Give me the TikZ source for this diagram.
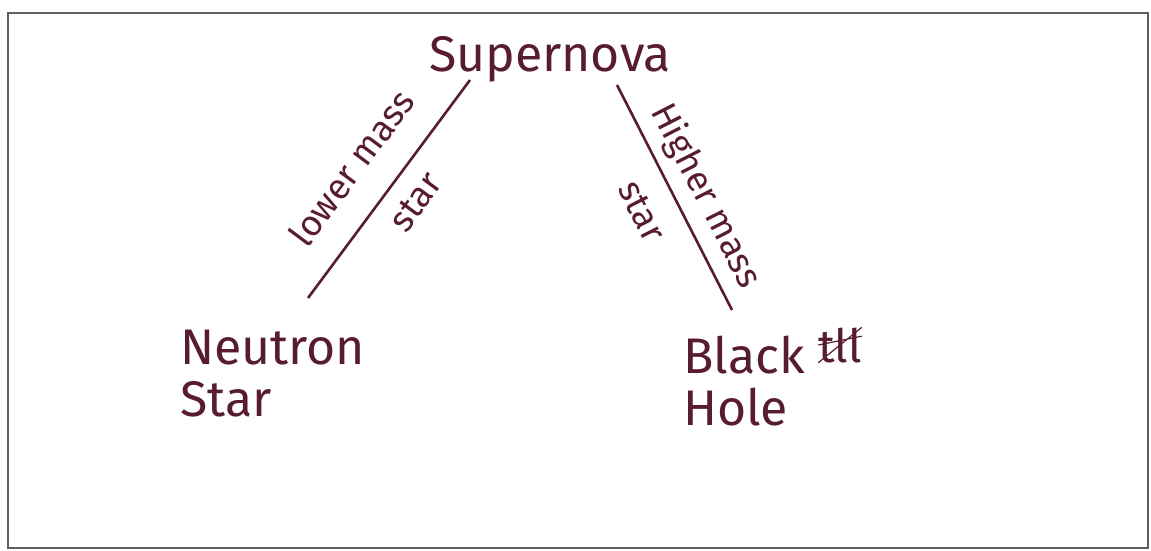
\documentclass[tikz,border=0pt]{standalone}
\usepackage{fontspec}
\setmainfont{Fira Sans}
\definecolor{ink}{RGB}{88,28,48}
\definecolor{frame}{RGB}{95,95,95}
\usetikzlibrary{calc}

\begin{document}
\begin{tikzpicture}[x=1pt,y=-1pt,
    big/.style={font=\fontsize{50}{52}\selectfont,text=ink,inner sep=0pt},
    side/.style={font=\fontsize{36}{38}\selectfont,text=ink,sloped,inner sep=0pt},
    link/.style={draw=ink,line width=2.6pt}]
  \useasboundingbox (0,0) rectangle (1151,551);
  \fill[white] (0,0) rectangle (1151,551);
  % sheet outline
  \draw[frame,line width=1.6pt] (8,13) rectangle (1148,548);
  % the three words
  \node[big,anchor=base] (supernova) at (550,72) {Supernova};
  \node[big,align=left,anchor=base west] (neutron) at (180,416) {Neutron\\Star};
  \node[big,align=left,anchor=base west] (blackhole) at (683,425) {Black\\Hole};
  \node[text=ink,font=\fontsize{46}{48}\selectfont,inner sep=0pt,anchor=base] (scratch) at (840,362) {tll};
  \draw[ink,line width=1.2pt] (scratch.south west) -- (scratch.north east)
    (scratch.west) -- ($(scratch.north east)!0.5!(scratch.east)$);
  % end points of the two strokes
  \coordinate (lowtop) at (470,80);
  \coordinate (lowend) at (308,298);
  \coordinate (hightop) at (617,85);
  \coordinate (highend) at (732,310);
  \draw[link] (lowtop) -- node[side,pos=0.52,above=28pt]{lower mass}
    node[side,pos=0.48,below=16pt]{star} (lowend);
  \draw[link] (hightop) -- node[side,pos=0.55,above=9pt]{Higher mass}
    node[side,pos=0.49,below=22pt]{star} (highend);
\end{tikzpicture}
\end{document}
